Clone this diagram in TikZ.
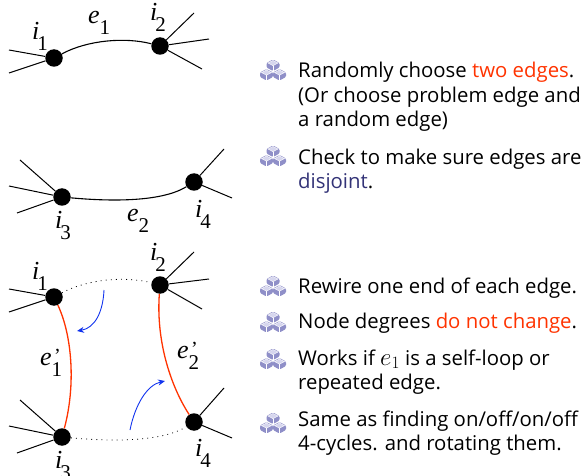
\documentclass[tikz,border=0pt]{standalone}
\usepackage{fontspec}
\setmainfont{Open Sans}
\newfontfamily\serifa{Liberation Serif}
\definecolor{hot}{HTML}{FF3300}
\definecolor{dis}{HTML}{333377}
\definecolor{cub}{HTML}{8F8FC8}
\definecolor{cubt}{HTML}{D6D6EE}
\definecolor{arr}{HTML}{1133EE}
\newcommand{\lab}[3]{{\serifa\fontsize{26}{26}\selectfont\textit{#1}\ifx#1i\hspace{-2pt}\fi\rlap{\raisebox{-11pt}{\fontsize{21}{21}\selectfont #2}}\ifx&#3&\else\hspace{2.4pt}\raisebox{3pt}{\fontsize{20}{20}\selectfont #3}\fi}}
\tikzset{
  dot/.style={circle,fill=black,minimum size=17.5pt,inner sep=0pt},
  spoke/.style={line width=1pt},
  edgeline/.style={line width=1.1pt},
  redline/.style={line width=1.3pt,draw=hot},
  dots/.style={line width=0.8pt,dash pattern=on 0.9pt off 4.2pt},
  turn/.style={line width=0.9pt,draw=arr,-{Stealth[length=7pt,width=6pt]}},
  txt/.style={anchor=west,align=left,inner sep=0pt,font=\fontsize{20.35}{24.4}\selectfont,text=black},
  lbl/.style={inner sep=0pt,anchor=base west},
  cubes/.pic={
    \foreach \cx/\cy in {0/-5,-6.5/4.5,6.5/4.5}{
      \begin{scope}[shift={(\cx,\cy)}]
        \fill[cub,rounded corners=1.2pt] (-6.5,-2) -- (0,-5.5) -- (6.5,-2) -- (6.5,2.5) -- (0,6) -- (-6.5,2.5) -- cycle;
        \fill[cubt,draw=white,line width=0.4pt] (-5,-2) -- (0,-4.5) -- (5,-2) -- (0,0.7) -- cycle;
        \draw[white,line width=0.5pt] (0,0.7) -- (0,6);
      \end{scope}}
  }
}
\usetikzlibrary{arrows.meta}
\begin{document}
\begin{tikzpicture}[x=1pt,y=-1pt]
\useasboundingbox (0,0) rectangle (584,476);
% top pair
\node[dot] (a1) at (54,58) {};
\node[dot] (a2) at (160,46) {};
\node[dot] (a3) at (62,197) {};
\node[dot] (a4) at (194,182) {};
\coordinate (p1) at (9,50); \coordinate (p2) at (9,73);
\coordinate (p3) at (194,13); \coordinate (p4) at (209,39); \coordinate (p5) at (202,69);
\coordinate (p6) at (20,160); \coordinate (p7) at (9,186); \coordinate (p8) at (17,213);
\coordinate (p9) at (224,149); \coordinate (p10) at (232,198);
\foreach \s in {p1,p2}{\draw[spoke] (a1) -- (\s);}
\foreach \s in {p3,p4,p5}{\draw[spoke] (a2) -- (\s);}
\foreach \s in {p6,p7,p8}{\draw[spoke] (a3) -- (\s);}
\foreach \s in {p9,p10}{\draw[spoke] (a4) -- (\s);}
\draw[edgeline] (a1) .. controls (88,40) and (125,37) .. (a2);
\draw[edgeline] (a3) .. controls (105,201) and (160,203) .. (a4);
\node[lbl] (la1) at (32,40) {\lab{i}{1}{}};
\node[lbl] (la2) at (150,21) {\lab{i}{2}{}};
\node[lbl] (le1) at (88,24) {\lab{e}{1}{}};
\node[lbl] (la3) at (55,229) {\lab{i}{3}{}};
\node[lbl] (la4) at (195,217) {\lab{i}{4}{}};
\node[lbl] (le2) at (127,222) {\lab{e}{2}{}};
% bottom
\node[dot] (b1) at (54,297) {};
\node[dot] (b2) at (160,285) {};
\node[dot] (b3) at (62,437) {};
\node[dot] (b4) at (194,422) {};
\coordinate (q1) at (9,289); \coordinate (q2) at (9,312);
\coordinate (q3) at (194,252); \coordinate (q4) at (209,279); \coordinate (q5) at (202,309);
\coordinate (q6) at (20,400); \coordinate (q7) at (9,426); \coordinate (q8) at (17,453);
\coordinate (q9) at (224,388); \coordinate (q10) at (232,438);
\foreach \s in {q1,q2}{\draw[spoke] (b1) -- (\s);}
\foreach \s in {q3,q4,q5}{\draw[spoke] (b2) -- (\s);}
\foreach \s in {q6,q7,q8}{\draw[spoke] (b3) -- (\s);}
\foreach \s in {q9,q10}{\draw[spoke] (b4) -- (\s);}
\draw[dots] (b1) .. controls (88,279) and (125,276) .. (b2);
\draw[dots] (b3) .. controls (105,441) and (160,443) .. (b4);
\draw[redline] (b1) .. controls (72,335) and (76,385) .. (b3);
\draw[redline] (b2) .. controls (156,340) and (170,385) .. (b4);
\coordinate (t1) at (104,290); \coordinate (h1) at (77,331);
\coordinate (t2) at (130,430); \coordinate (h2) at (165,381);
\draw[turn] (t1) .. controls (103,312) and (95,328) .. (h1);
\draw[turn] (t2) .. controls (135,405) and (147,385) .. (h2);
\node[lbl] (lb1) at (32,279) {\lab{i}{1}{}};
\node[lbl] (lb2) at (150,260) {\lab{i}{2}{}};
\node[lbl] (lb3) at (55,468) {\lab{i}{3}{}};
\node[lbl] (lb4) at (195,456) {\lab{i}{4}{}};
\node[lbl] (le3) at (40,365) {\lab{e}{1}{’}};
\node[lbl] (le4) at (177,358) {\lab{e}{2}{’}};
% icons
\foreach \yy in {70,156,286,322,359,423}{\pic at (273,\yy) {cubes};}
% text
\node[txt] (t-a) at (298,97) {Randomly choose \textcolor{hot}{two edges}.\\(Or choose problem edge and\\a random edge)};
\node[txt] (t-b) at (298,171) {Check to make sure edges are\\\textcolor{dis}{disjoint}.};
\node[txt] (t-c) at (298,288) {Rewire one end of each edge.};
\node[txt] (t-d) at (298,323) {Node degrees \textcolor{hot}{do not change}.};
\node[txt] (t-e) at (298,372) {Works if {\fontsize{24}{24.4}\selectfont$e_1$} is a self-loop or\\repeated edge.};
\node[txt] (t-f) at (298,433) {Same as finding on/off/on/off\\4-cycles. and rotating them.};
\end{tikzpicture}
\end{document}
